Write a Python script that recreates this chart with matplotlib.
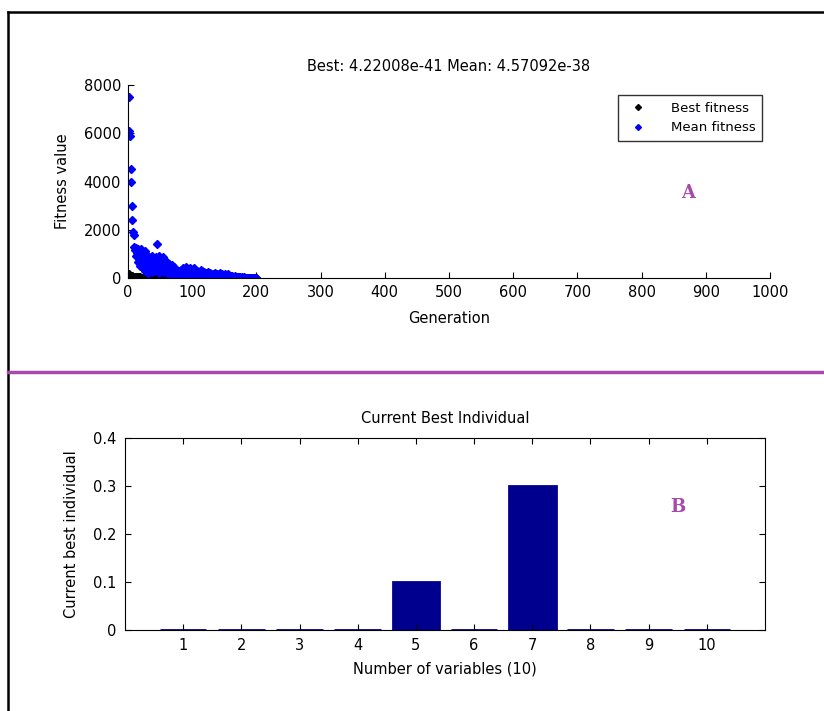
import numpy as np
import matplotlib.pyplot as plt
from matplotlib.lines import Line2D

# ---- data ----
mean_fitness = [
    7500, 6100, 5900, 4500, 4000, 3000, 2400, 1900, 1800, 1300, 1150, 1250, 900, 1050, 650, 1200, 800, 1100, 500, 950,
    1200, 700, 1000, 400, 850, 1100, 300, 750, 550, 950, 200, 650, 800, 350, 700, 500, 900, 250, 600, 450,
    750, 300, 550, 850, 1400, 400, 650, 200, 900, 500, 750, 300, 600, 450, 850, 250, 700, 550, 350, 650,
    200, 500, 400, 600, 150, 450, 300, 550, 100, 350, 250, 450, 150, 300, 200, 100, 250, 50, 150, 300,
    100, 200, 350, 150, 250, 400, 100, 300, 200, 450, 150, 250, 350, 100, 300, 200, 400, 150, 250, 100,
    300, 200, 400, 150, 350, 250, 100, 300, 200, 150, 250, 100, 350, 200, 150, 300, 100, 250, 200, 150,
    100, 200, 150, 250, 100, 150, 50, 200, 100, 150, 100, 50, 150, 100, 200, 50, 100, 150, 50, 100,
    150, 50, 100, 200, 50, 100, 150, 50, 100, 50, 150, 100, 50, 100, 50, 150, 50, 100, 50, 100,
    50, 80, 30, 60, 40, 80, 20, 50, 30, 60, 20, 40, 30, 20, 40, 10, 30, 20, 10, 30,
    20, 10, 20, 10, 15, 10, 5, 10, 5, 10, 5, 5, 10, 5, 5, 5, 5, 5, 5, 5,
]
best_fitness = [
    150, 120, 100, 90, 80, 75, 70, 60, 55, 50, 45, 40, 40, 35, 30, 30, 25, 25, 20, 20,
    20, 15, 15, 15, 10, 10, 10, 10, 8, 8, 8, 6, 6, 6, 5, 5, 5, 4, 4, 4,
    3, 3, 3, 3, 2, 2, 2, 2, 2, 2, 1, 1, 1, 1, 1, 1, 1, 1, 1, 1,
    1, 1, 1, 1, 1, 0.5, 0.5, 0.5, 0.5, 0.5, 0.5, 0.5, 0.5, 0.5, 0.5, 0.2, 0.2, 0.2, 0.2, 0.2,
    0.2, 0.2, 0.2, 0.2, 0.2, 0.1, 0.1, 0.1, 0.1, 0.1, 0.1, 0.1, 0.1, 0.1, 0.1, 0.1, 0.1, 0.1, 0.1, 0.1,
    0.1, 0.1, 0.1, 0.1, 0.1, 0.1, 0.1, 0.1, 0.1, 0.1, 0, 0, 0, 0, 0, 0, 0, 0, 0, 0,
    0, 0, 0, 0, 0, 0, 0, 0, 0, 0, 0, 0, 0, 0, 0, 0, 0, 0, 0, 0,
    0, 0, 0, 0, 0, 0, 0, 0, 0, 0, 0, 0, 0, 0, 0, 0, 0, 0, 0, 0,
    0, 0, 0, 0, 0, 0, 0, 0, 0, 0, 0, 0, 0, 0, 0, 0, 0, 0, 0, 0,
    0, 0, 0, 0, 0, 0, 0, 0, 0, 0, 0, 0, 0, 0, 0, 0, 0, 0, 0, 0,
]
generations = np.arange(1, len(mean_fitness) + 1)

variables = [1, 2, 3, 4, 5, 6, 7, 8, 9, 10]
best_individual = [0, 0, 0, 0, 0.1, 0, 0.3, 0, 0, 0]

title_top = "Best: 4.22008e-41 Mean: 4.57092e-38"
purple = "#a648ac"
navy = "#00008f"

plt.rcParams['font.family'] = ['DejaVu Sans']
fig = plt.figure(figsize=(8.24, 7.11), dpi=100)

# outer frame + separator
fig.add_artist(Line2D([8/824, 1], [1 - 12/711, 1 - 12/711], color='black', lw=1.8))
fig.add_artist(Line2D([8/824, 8/824], [0, 1 - 12/711], color='black', lw=1.8))
fig.add_artist(Line2D([8/824, 1], [1 - 372/711, 1 - 372/711], color=purple, lw=2.5))

# ---- top plot: fitness ----
ax1 = fig.add_axes([128/824, 1 - 278/711, 642/824, 193/711])
ax1.plot(generations, best_fitness, 'D', color='black', ms=4.3, label='Best fitness')
ax1.plot(generations, mean_fitness, 'D', color='#0000ff', ms=4.3, label='Mean fitness')
ax1.set_xlim(0, 1000)
ax1.set_ylim(0, 8000)
ax1.set_xticks(np.arange(0, 1001, 100))
ax1.set_yticks(np.arange(0, 8001, 2000))
ax1.spines['top'].set_visible(False)
ax1.spines['right'].set_visible(False)
ax1.tick_params(direction='in', length=4, labelsize=10.5, pad=5)
ax1.set_title(title_top, fontsize=10.5, pad=10)
ax1.set_xlabel("Generation", fontsize=10.5, labelpad=8)
ax1.set_ylabel("Fitness value", fontsize=10.5, labelpad=10)
leg = ax1.legend(loc='upper right', bbox_to_anchor=(762/824, 1 - 95/711),
                 bbox_transform=fig.transFigure, fontsize=9.5, frameon=True,
                 fancybox=False, borderaxespad=0, handletextpad=1.5, borderpad=0.5,
                 markerscale=0.7)
leg.get_frame().set_edgecolor('black')
leg.get_frame().set_linewidth(1)
fig.text(688/824, 1 - 193/711, "A", color=purple, fontsize=13, fontweight='bold',
         family='DejaVu Serif', ha='center', va='center')

# ---- bottom plot: current best individual ----
ax2 = fig.add_axes([125/824, 1 - 630/711, 640/824, 192/711])
ax2.bar(variables, best_individual, width=0.8, color=navy, edgecolor=navy, linewidth=2)
ax2.set_xlim(0, 11)
ax2.set_ylim(0, 0.4)
ax2.set_xticks(variables)
ax2.set_yticks([0, 0.1, 0.2, 0.3, 0.4])
ax2.set_yticklabels(['0', '0.1', '0.2', '0.3', '0.4'])
ax2.tick_params(direction='in', length=4, labelsize=10.5, pad=6, top=True, right=True)
ax2.set_title("Current Best Individual", fontsize=10.5, pad=11)
ax2.set_xlabel("Number of variables (10)", fontsize=10.5, labelpad=6)
ax2.set_ylabel("Current best individual", fontsize=10.5, labelpad=10)
fig.text(678/824, 1 - 507/711, "B", color=purple, fontsize=13, fontweight='bold',
         family='DejaVu Serif', ha='center', va='center')

fig.savefig("out.png", dpi=100)
